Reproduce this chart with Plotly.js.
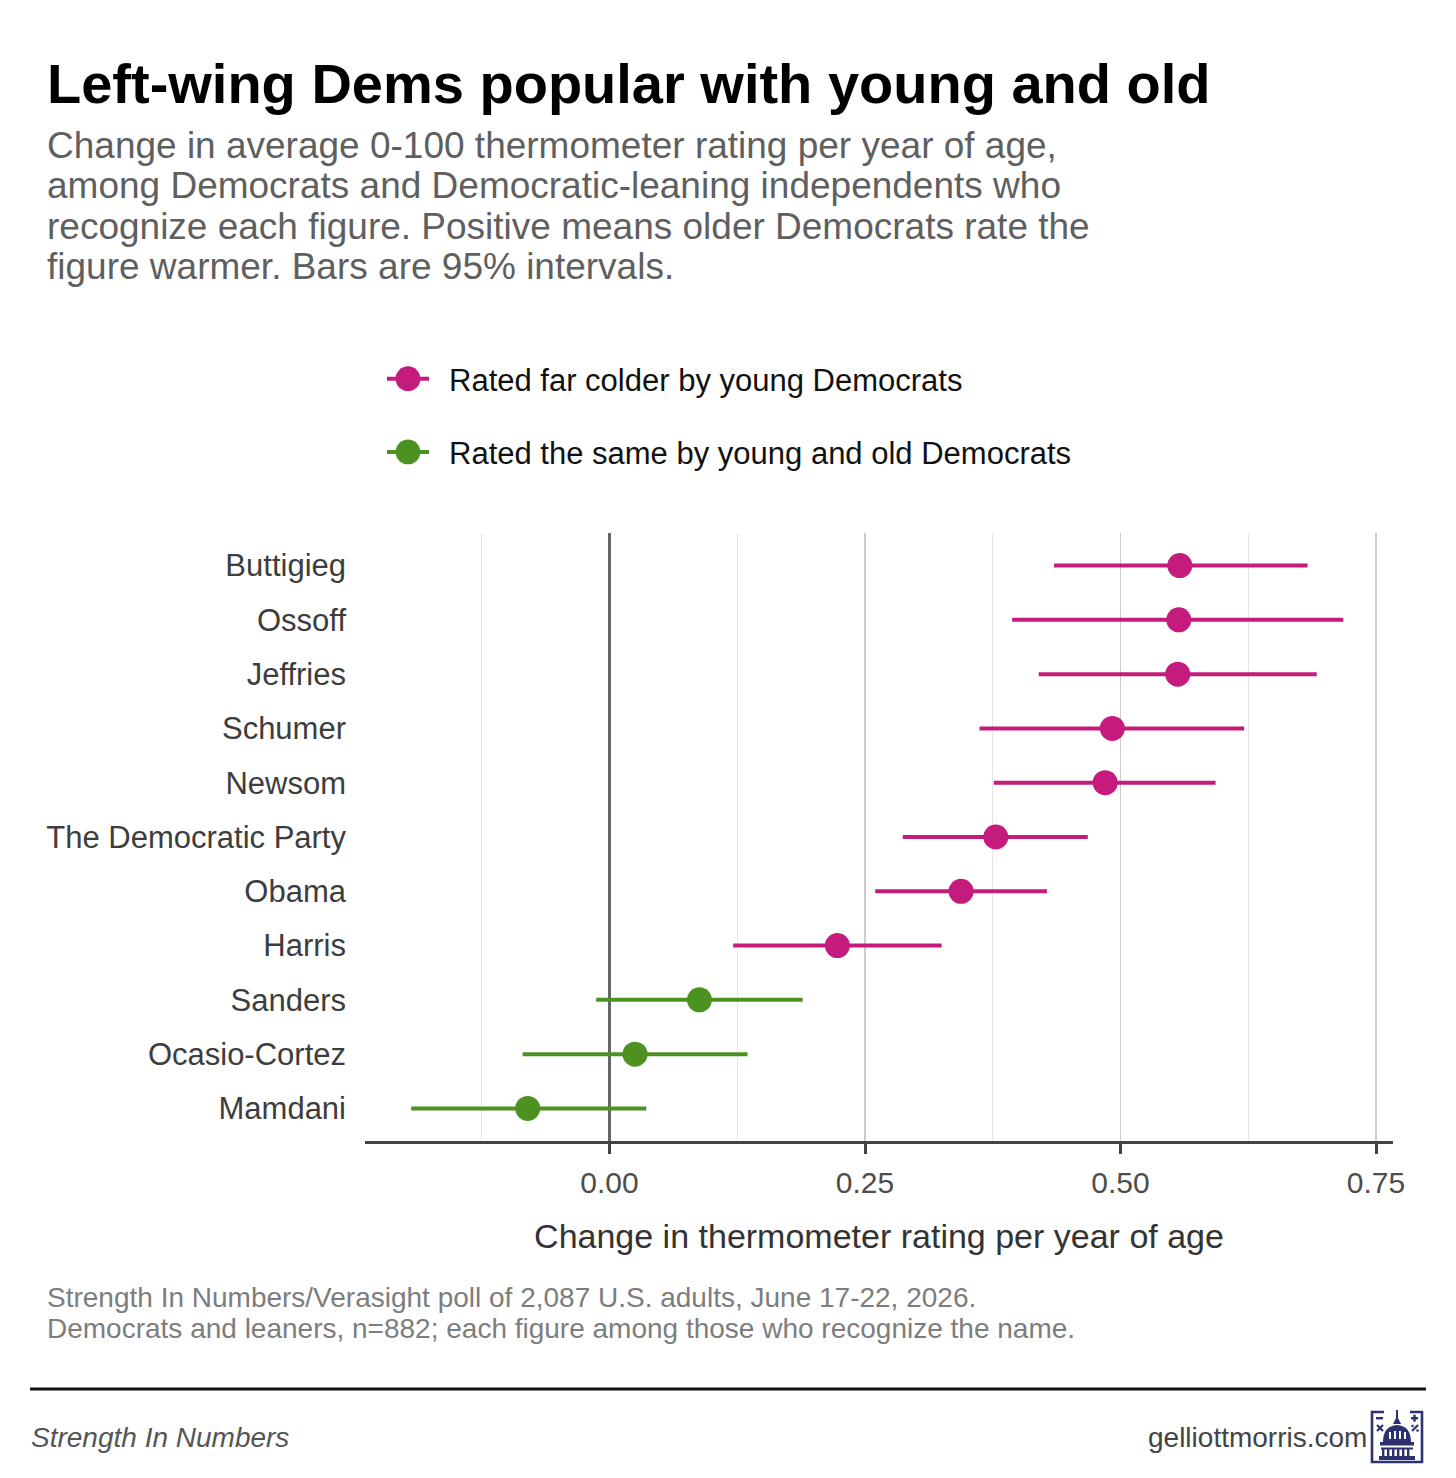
<!DOCTYPE html>
<html>
<head>
<meta charset="utf-8">
<script src="https://cdn.plot.ly/plotly-3.0.1.min.js"></script>
<style>
  html, body { margin: 0; padding: 0; background: #ffffff; }
  #chart { width: 1456px; height: 1478px; }
</style>
</head>
<body>
<div id="chart"></div>
<script>
// ---- Data ----
const names = ['Buttigieg', 'Ossoff', 'Jeffries', 'Schumer', 'Newsom', 'The Democratic Party',
               'Obama', 'Harris', 'Sanders', 'Ocasio-Cortez', 'Mamdani'];
const estimates = [0.558, 0.557, 0.556, 0.492, 0.485, 0.378, 0.344, 0.223, 0.088, 0.025, -0.080];
const lower = [0.435, 0.394, 0.420, 0.362, 0.376, 0.287, 0.260, 0.121, -0.013, -0.085, -0.194];
const upper = [0.683, 0.718, 0.692, 0.621, 0.593, 0.468, 0.428, 0.325, 0.189, 0.135, 0.036];
const groups = ['colder', 'colder', 'colder', 'colder', 'colder', 'colder', 'colder', 'colder',
                'same', 'same', 'same'];
const groupLabels = {
  colder: 'Rated far colder by young Democrats',
  same: 'Rated the same by young and old Democrats'
};
const groupOrder = ['colder', 'same'];
const xTickVals = [0, 0.25, 0.5, 0.75];
const xTickText = ['0.00', '0.25', '0.50', '0.75'];

// ---- Styles ----
const colors = { colder: '#C51B7D', same: '#4D9221' };
const FONT = 'Liberation Sans, Arial, Helvetica, sans-serif';

const traces = [];
groupOrder.forEach(function (g) {
  const idx = [];
  groups.forEach(function (v, i) { if (v === g) idx.push(i); });
  traces.push({
    type: 'scatter',
    mode: 'markers',
    x: idx.map(i => estimates[i]),
    y: idx.map(i => names[i]),
    error_x: {
      type: 'data',
      symmetric: false,
      array: idx.map(i => upper[i] - estimates[i]),
      arrayminus: idx.map(i => estimates[i] - lower[i]),
      color: colors[g],
      thickness: 4,
      width: 0
    },
    marker: { color: colors[g], size: 25, line: { width: 0 } },
    showlegend: false,
    hoverinfo: 'x+y'
  });
});
// legend keys (point + interval line)
groupOrder.forEach(function (g) {
  traces.push({
    type: 'scatter',
    mode: 'lines+markers',
    x: [null], y: [null],
    name: groupLabels[g],
    legendgroup: g,
    line: { color: colors[g], width: 4 },
    marker: { color: colors[g], size: 16 },
    showlegend: true
  });
});

const W = 1456, H = 1478;
const cy = px => 1 - px / H;   // container y from pixel
const cx = px => px / W;

const plotL = 365, plotR = W - 63, plotT = 533, plotB = H - 337;
const px2x = px => (px - plotL) / (plotR - plotL);
const px2y = py => (plotB - py) / (plotB - plotT);

const layout = {
  width: W, height: H,
  paper_bgcolor: '#ffffff', plot_bgcolor: '#ffffff',
  margin: { l: 365, r: 63, t: 533, b: 337, autoexpand: false },
  font: { family: FONT },
  title: {
    text: 'Left-wing Dems popular with young and old',
    xref: 'container', yref: 'container',
    x: cx(47), xanchor: 'left',
    y: cy(83), yanchor: 'middle',
    font: { family: FONT, size: 56, weight: 700, color: '#000000' }
  },
  showlegend: true,
  legend: {
    xref: 'paper', yref: 'paper',
    x: px2x(367), xanchor: 'left',
    y: px2y(352), yanchor: 'top',
    orientation: 'v',
    traceorder: 'grouped',
    tracegroupgap: 30,
    itemwidth: 72,
    font: { family: FONT, size: 31, color: '#111111' },
    itemclick: false, itemdoubleclick: false,
    bgcolor: 'rgba(0,0,0,0)'
  },
  xaxis: {
    range: [-0.2392, 0.7666],
    tickvals: xTickVals, ticktext: xTickText,
    showgrid: true, gridcolor: '#cccccc', gridwidth: 1.5,
    minor: { tick0: 0.125, dtick: 0.25, showgrid: true, gridcolor: '#e6e6e6', gridwidth: 1, ticks: '' },
    zeroline: true, zerolinecolor: '#666666', zerolinewidth: 3,
    showline: true, linecolor: '#444444', linewidth: 3,
    ticks: 'outside', ticklen: 10, tickwidth: 3, tickcolor: '#444444',
    ticklabelstandoff: 3,
    tickfont: { family: FONT, size: 30, color: '#4d4d4d' },
    title: {
      text: 'Change in thermometer rating per year of age',
      font: { family: FONT, size: 34, color: '#333333' },
      standoff: 27
    },
    automargin: false,
    fixedrange: true
  },
  yaxis: {
    type: 'category',
    categoryorder: 'array',
    categoryarray: names.slice().reverse(),
    range: [-0.6, 10.6],
    showgrid: false, zeroline: false, showline: false,
    ticks: '', ticklabelstandoff: 18,
    tickfont: { family: FONT, size: 31, color: '#3d3d3d' },
    automargin: false,
    fixedrange: true
  },
  annotations: [],
  shapes: [],
  images: []
};

const subLines = [
  'Change in average 0-100 thermometer rating per year of age,',
  'among Democrats and Democratic-leaning independents who',
  'recognize each figure. Positive means older Democrats rate the',
  'figure warmer. Bars are 95% intervals.'
];
const subCenters = [145, 185.6, 226.2, 266.8];
subLines.forEach(function (t, i) {
  layout.annotations.push({
    text: t, xref: 'paper', yref: 'paper', showarrow: false,
    x: px2x(45), y: px2y(subCenters[i]), xanchor: 'left', yanchor: 'middle',
    font: { family: FONT, size: 37, color: '#5f5f5f' }
  });
});
const captionLines = [
  'Strength In Numbers/Verasight poll of 2,087 U.S. adults, June 17-22, 2026.',
  'Democrats and leaners, n=882; each figure among those who recognize the name.'
];
const capCenters = [1297, 1328];
captionLines.forEach(function (t, i) {
  layout.annotations.push({
    text: t, xref: 'paper', yref: 'paper', showarrow: false,
    x: px2x(45), y: px2y(capCenters[i]), xanchor: 'left', yanchor: 'middle',
    font: { family: FONT, size: 28, color: '#7d7d7d' }
  });
});
layout.annotations.push({
  text: '<i>Strength In Numbers</i>', xref: 'paper', yref: 'paper', showarrow: false,
  x: px2x(29), y: px2y(1437), xanchor: 'left', yanchor: 'middle',
  font: { family: FONT, size: 28, color: '#555555' }
});
layout.annotations.push({
  text: 'gelliottmorris.com', xref: 'paper', yref: 'paper', showarrow: false,
  x: px2x(1369), y: px2y(1437), xanchor: 'right', yanchor: 'middle',
  font: { family: FONT, size: 28, color: '#444444' }
});
layout.shapes = [
  { type: 'line', xref: 'paper', yref: 'paper',
    x0: px2x(30), x1: px2x(1426), y0: px2y(1389), y1: px2y(1389),
    line: { color: '#111111', width: 3 } }
];

// logo (simple capitol-with-math-signs mark)
const logoSvg =
  '<svg xmlns="http://www.w3.org/2000/svg" viewBox="0 0 54 54">' +
  '<g fill="none" stroke="#2e3170" stroke-width="2.6">' +
  '<path d="M14 2 H2 V52 H52 V2 H40"/>' +
  '</g>' +
  '<g fill="#2e3170">' +
  '<rect x="6" y="7" width="7" height="2.4"/>' +
  '<rect x="41" y="7" width="7" height="2.4"/><rect x="43.3" y="4.7" width="2.4" height="7"/>' +
  '<path d="M7 15 l6 6 M13 15 l-6 6" stroke="#2e3170" stroke-width="2.2"/>' +
  '<path d="M42 21 l6 -6" stroke="#2e3170" stroke-width="2.2"/><circle cx="42.5" cy="16" r="1.3"/><circle cx="47.5" cy="20.5" r="1.3"/>' +
  '<rect x="26" y="0" width="2" height="8"/>' +
  '<path d="M23 14 L27 6 L31 14 Z"/>' +
  '<path d="M13 32 Q13 16 27 15 Q41 16 41 32 Z"/>' +
  '<rect x="10" y="32" width="34" height="3.5"/>' +
  '<rect x="11" y="37.5" width="32" height="2"/>' +
  '<rect x="12" y="38" width="2.4" height="8"/><rect x="17" y="38" width="2.4" height="8"/>' +
  '<rect x="22" y="38" width="2.4" height="8"/><rect x="27" y="38" width="2.4" height="8"/>' +
  '<rect x="32" y="38" width="2.4" height="8"/><rect x="37" y="38" width="2.4" height="8"/>' +
  '<rect x="9" y="46" width="36" height="4"/>' +
  '</g>' +
  '<g fill="#ffffff"><rect x="19" y="22" width="2" height="7"/><rect x="24" y="21" width="2" height="8"/>' +
  '<rect x="29" y="21" width="2" height="8"/><rect x="34" y="22" width="2" height="7"/></g>' +
  '</svg>';
layout.images = [{
  source: 'data:image/svg+xml;base64,' + btoa(logoSvg),
  xref: 'paper', yref: 'paper',
  x: px2x(1370), y: px2y(1410),
  sizex: 54 / (plotR - plotL), sizey: 54 / (plotB - plotT),
  xanchor: 'left', yanchor: 'top', sizing: 'stretch', layer: 'above'
}];

Plotly.newPlot('chart', traces, layout, { displayModeBar: false, staticPlot: true }).then(function (gd) {
  // legend keys: enlarge the point to the plotted size, shorten the interval line around it
  gd.querySelectorAll('.legend .traces').forEach(function (item) {
    const pt = item.querySelector('.legendpoints path.scatterpts');
    let c = null;
    if (pt) {
      const bb = pt.getBBox();
      const t = pt.getAttribute('transform') || '';
      pt.setAttribute('transform', t + ' scale(1.55)');
      const m = /translate\(\s*([-\d.]+)/.exec(t);
      c = m ? parseFloat(m[1]) : null;
    }
    item.querySelectorAll('.legendlines path').forEach(function (ln) {
      const bb = ln.getBBox();
      const cc = (c !== null) ? c : bb.x + bb.width / 2;
      const s = 42 / bb.width;
      ln.setAttribute('transform', 'translate(' + cc + ',0) scale(' + s + ',1) translate(' + (-cc) + ',0)');
    });
  });
});
</script>
</body>
</html>
